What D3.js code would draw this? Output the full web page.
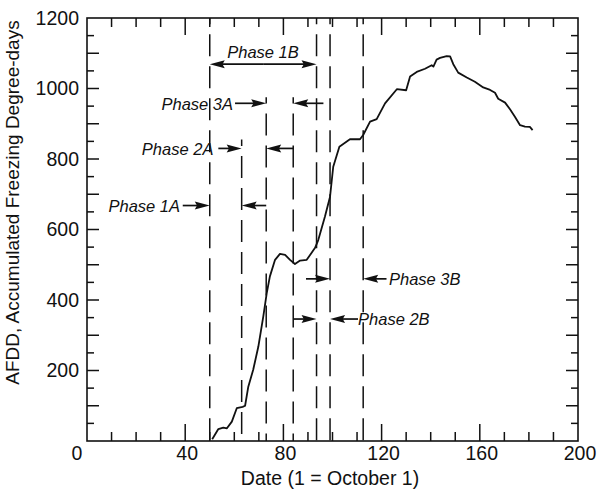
<!DOCTYPE html>
<html><head><meta charset="utf-8">
<script src="https://cdn.jsdelivr.net/npm/d3@7"></script>
<style>
html,body{margin:0;padding:0;background:#fff;}
svg{display:block;}
text{font-family:"Liberation Sans",Arial,Helvetica,sans-serif;fill:#111;}
</style></head>
<body>
<script>
// Data
const days = [51, 53.5, 55.5, 57, 59, 61, 63.4, 64.4, 65.7, 67.7, 69.8, 71.8, 73.2, 74.5, 76.6, 78.6, 80.7, 82.7, 84.7, 86.8, 89.5, 92.9, 94.2, 96.9, 99, 100.3, 102.8, 107.1, 111.2, 112.5, 115.3, 118, 121.4, 126.2, 130, 131.6, 134.3, 137.7, 140.4, 141.1, 142.4, 143.8, 146.5, 147.9, 149.2, 151.2, 154.7, 158, 161.4, 164.2, 166.2, 167.5, 170.3, 172.3, 174.3, 176.4, 178.4, 180.4, 181.5];
const afdd = [5, 34, 38, 36, 55, 93, 97, 100, 154, 202, 268, 353, 419, 467, 514, 531, 528, 514, 502, 512, 514, 548, 570, 636, 693, 778, 835, 856, 856, 868, 906, 913, 958, 998, 995, 1034, 1047, 1056, 1066, 1062, 1082, 1087, 1092, 1091, 1069, 1045, 1031, 1019, 1003, 996, 988, 971, 960, 941, 920, 896, 892, 891, 882];

const xTickLabels = [0, 40, 80, 120, 160, 200];
const yTickLabels = [200, 400, 600, 800, 1000, 1200];

// Phase boundary days and the AFDD level where each dashed line begins
const boundaryDays = [50, 63, 73, 84, 93.5, 99, 112.5];
const boundaryTops = [1200, 855, 975, 975, 1200, 1200, 1200];

// Phase arrows: [tail day, head day], drawn at the phase's AFDD level
const phaseNames = ["Phase 1B", "Phase 3A", "Phase 2A", "Phase 1A", "Phase 3B", "Phase 2B"];
const phaseLevels = [1069, 958, 830, 668, 460, 346];
const arrowsIn = [[71.75, 50], [60.3, 73], [53.5, 63], [39, 50], [89.2, 99], [84, 93.5]];
const arrowsOut = [[71.75, 93.5], [96.3, 84], [84, 73], [73, 63], [122, 112.5], [110.4, 99]];
const labelDays = [71.7, 59.5, 51.5, 37.9, 123, 110.4];
const labelAnchors = ["middle", "end", "end", "end", "start", "start"];

const W = 598, H = 491;
const svg = d3.select("body").append("svg").attr("width", W).attr("height", H);

const x = d3.scaleLinear().domain([0, 200]).range([87, 578]);
const y = d3.scaleLinear().domain([0, 1200]).range([441, 18]);

const ink = "#111";

// Frame
svg.append("rect").attr("x", x(0)).attr("y", y(1200))
  .attr("width", x(200) - x(0)).attr("height", y(0) - y(1200))
  .attr("fill", "none").attr("stroke", ink).attr("stroke-width", 1.6);

// Ticks
const xMinor = d3.range(0, 201, 10);
const yMinor = d3.range(0, 1201, 50);
const tg = svg.append("g").attr("stroke", ink).attr("stroke-width", 1.5);
xMinor.forEach(d => {
  const L = d % 40 === 0 ? 17 : 9;
  if (d === 0 || d === 200) return;
  tg.append("line").attr("x1", x(d)).attr("x2", x(d)).attr("y1", y(0)).attr("y2", y(0) - L);
  tg.append("line").attr("x1", x(d)).attr("x2", x(d)).attr("y1", y(1200)).attr("y2", y(1200) + L);
});
yMinor.forEach(v => {
  const L = v % 100 === 0 ? 12 : 7;
  if (v === 0 || v === 1200) return;
  tg.append("line").attr("y1", y(v)).attr("y2", y(v)).attr("x1", x(0)).attr("x2", x(0) + L);
  tg.append("line").attr("y1", y(v)).attr("y2", y(v)).attr("x1", x(200)).attr("x2", x(200) - L);
});

// Tick labels
svg.append("g").selectAll("text").data(xTickLabels).join("text")
  .attr("x", d => x(d) + (d === 0 ? -10 : 2)).attr("y", 460)
  .attr("text-anchor", "middle").attr("font-size", 19.5).text(d => d);
svg.append("g").selectAll("text").data(yTickLabels).join("text")
  .attr("x", 79).attr("y", d => y(d)).attr("dy", "0.35em")
  .attr("text-anchor", "end").attr("font-size", 19.5).text(d => d);

// Axis titles
svg.append("text").attr("x", 330).attr("y", 485).attr("text-anchor", "middle")
  .attr("font-size", 19.5).text("Date (1 = October 1)");
svg.append("text").attr("transform", `translate(19,${(387 + 18) / 2}) rotate(-90)`)
  .attr("text-anchor", "middle").attr("font-size", 19).text("AFDD, Accumulated Freezing Degree-days");

// Dashed phase boundaries
svg.append("g").selectAll("line").data(boundaryDays).join("line")
  .attr("x1", d => x(d)).attr("x2", d => x(d))
  .attr("y1", (d, i) => y(boundaryTops[i])).attr("y2", y(0))
  .attr("stroke", ink).attr("stroke-width", 1.5)
  .attr("stroke-dasharray", "22,10").attr("stroke-dashoffset", 15.7);

// Arrows
const ag = svg.append("g");
function arrow(d1, d2, v) {
  const x1 = x(d1), x2 = x(d2), yy = y(v);
  const dir = Math.sign(x2 - x1);
  const hl = 15, hw = 4;
  ag.append("line").attr("x1", x1).attr("x2", x2 - dir * hl * 0.7).attr("y1", yy).attr("y2", yy)
    .attr("stroke", ink).attr("stroke-width", 1.7);
  ag.append("path").attr("d", `M${x2},${yy} L${x2 - dir * hl},${yy - hw} L${x2 - dir * hl * 0.85},${yy} L${x2 - dir * hl},${yy + hw} Z`)
    .attr("fill", ink);
}
phaseLevels.forEach((v, i) => {
  arrow(arrowsIn[i][0], arrowsIn[i][1], v);
  arrow(arrowsOut[i][0], arrowsOut[i][1], v);
});

// Phase labels
svg.append("g").selectAll("text").data(phaseNames).join("text")
  .attr("x", (d, i) => x(labelDays[i]))
  .attr("y", (d, i) => i === 0 ? y(1103) : y(phaseLevels[i]))
  .attr("dy", "0.38em")
  .attr("text-anchor", (d, i) => labelAnchors[i])
  .attr("font-size", 16.5).attr("font-style", "italic").text(d => d);

// Curve
const pts = days.map((d, i) => [d, afdd[i]]);
svg.append("path").datum(pts)
  .attr("d", d3.line().x(p => x(p[0])).y(p => y(p[1])))
  .attr("fill", "none").attr("stroke", ink).attr("stroke-width", 1.8)
  .attr("stroke-linejoin", "round");
</script>
</body></html>
